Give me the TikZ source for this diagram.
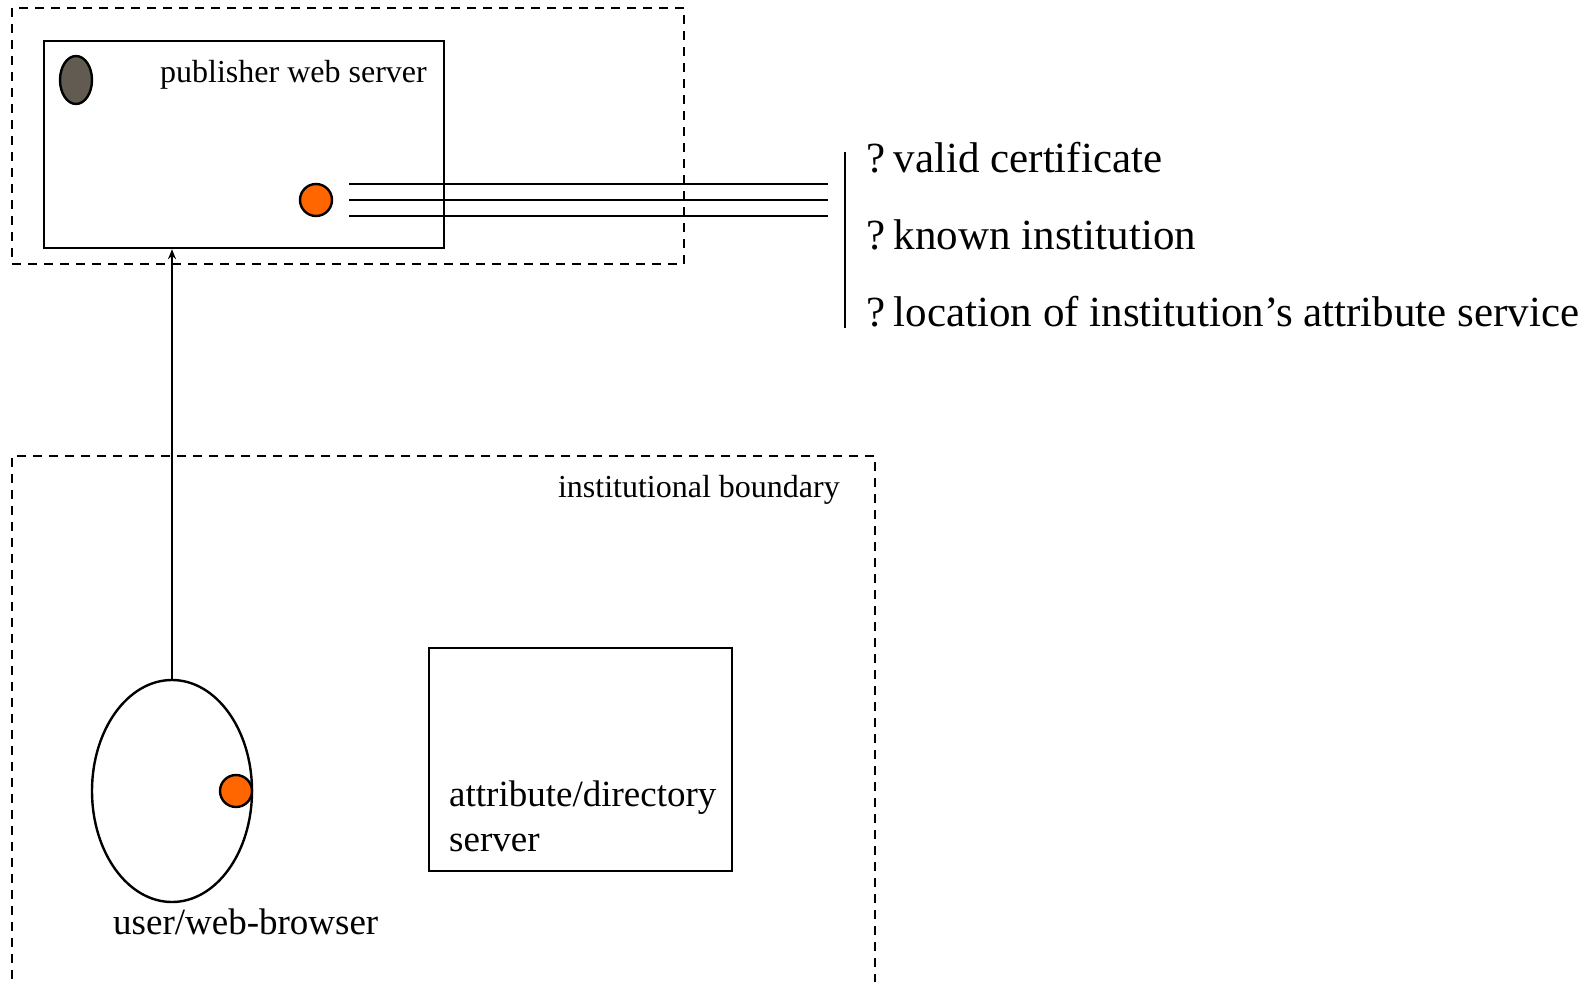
\documentclass[tikz,border=0pt]{standalone}
\usepackage{fontspec}
\setmainfont{Liberation Serif}
\usetikzlibrary{shapes.geometric,arrows.meta}
\definecolor{dotorange}{RGB}{255,102,0}
\definecolor{keygrey}{RGB}{98,91,82}
\newcommand{\qgap}{?\hspace{8.5pt}}
\begin{document}
\begin{tikzpicture}[x=1pt,y=-1pt,line width=2.4pt,
  boundary/.style={draw,dash pattern=on 9pt off 7pt,line width=2.4pt},
  box/.style={draw,rectangle,line width=2.4pt,inner sep=0pt},
  dot/.style={draw,circle,fill=dotorange,minimum size=32pt,inner sep=0pt,line width=2.4pt},
  small/.style={inner sep=0pt,font=\fontsize{32}{38}\selectfont},
  medium/.style={inner sep=0pt,font=\fontsize{37}{44}\selectfont},
  large/.style={inner sep=0pt,font=\fontsize{43}{50}\selectfont}]
\useasboundingbox (0,0) rectangle (1590,982);

% publisher side
\draw[boundary] (12,8) rectangle (684,264);
\node[box,minimum width=400pt,minimum height=207pt] (pub) at (244,144.5) {};
\node[draw,ellipse,fill=keygrey,minimum width=32pt,minimum height=48pt,inner sep=0pt] (key) at (76,80) {};
\node[small,anchor=base west] (publbl) at (159,82) {publisher web server};
\node[dot] (srvdot) at (316,200) {};

% checks performed by the publisher
\foreach \y in {184,200,216} \draw (349,\y) -- (828,\y);
\coordinate (bartop) at (845,152);
\coordinate (barbot) at (845,328);
\draw (bartop) -- (barbot);
\node[large,anchor=base west] (q1) at (865,172) {\qgap valid certificate};
\node[large,anchor=base west] (q2) at (865,249) {\qgap known institution};
\node[large,anchor=base west] (q3) at (865,326) {\qgap location of institution’s attribute service};

% institution side
\draw[boundary] (12,995) -- (12,456) -- (875,456) -- (875,995);
\node[small,anchor=base east] (instlbl) at (841,497) {institutional boundary};
\node[draw,ellipse,minimum width=160pt,minimum height=222pt,inner sep=0pt] (user) at (172,791) {};
\node[dot] (userdot) at (236,791) {};
\node[medium,anchor=base west] (userlbl) at (112,934) {user/web-browser};
\node[box,minimum width=303pt,minimum height=223pt] (attr) at (580.5,759.5) {};
\node[medium,anchor=base west] (attr1) at (448,806) {attribute/directory};
\node[medium,anchor=base west] (attr2) at (448,851) {server};

% request from the browser to the publisher
\draw[-{Stealth[length=10pt,width=8pt]},line width=2.4pt] (user.north) -- (user.north |- pub.south);
\end{tikzpicture}
\end{document}
